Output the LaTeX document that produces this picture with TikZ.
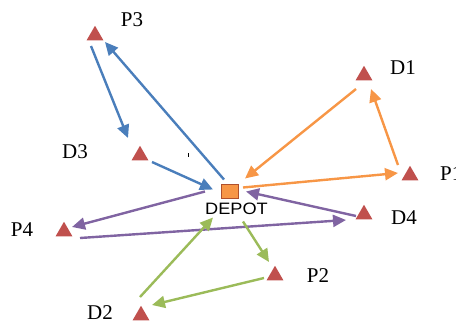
\documentclass[tikz,border=0pt]{standalone}
\usepackage{fontspec}
\setmainfont{Liberation Serif}
\newfontfamily\depotfont{Liberation Sans}
\usetikzlibrary{arrows.meta,shapes.geometric}
\definecolor{sitered}{HTML}{C0504D}
\definecolor{routeblue}{HTML}{4A7EBB}
\definecolor{routeorange}{HTML}{F79646}
\definecolor{routepurple}{HTML}{8064A2}
\definecolor{routegreen}{HTML}{9BBB59}
\definecolor{depotedge}{HTML}{B0502C}
\begin{document}
\begin{tikzpicture}[x=1pt,y=-1pt,
  site/.style={regular polygon, regular polygon sides=3, fill=sitered,
    draw=none, minimum size=19.5pt, inner sep=0pt},
  lbl/.style={font=\fontsize{21}{21}\selectfont, inner sep=0pt},
  route/.style={line width=2.4pt, -{Triangle[length=13pt,width=12pt]}},
  blueroute/.style={route, draw=routeblue},
  orangeroute/.style={route, draw=routeorange},
  purpleroute/.style={route, draw=routepurple},
  greenroute/.style={route, draw=routegreen}]
\useasboundingbox (0,0) rectangle (456,325);

% customer sites (pickup P, delivery D)
\node[site] (P3) at (95,35.5) {};
\node[site] (D3) at (140,155.5) {};
\node[site] (D1) at (364,75.5) {};
\node[site] (P1) at (410,175.5) {};
\node[site] (D4) at (364,214.5) {};
\node[site] (P2) at (275,275.5) {};
\node[site] (P4) at (64,231.5) {};
\node[site] (D2) at (141,315.5) {};

% depot
\node[draw=depotedge, line width=1.2pt, fill=routeorange,
  minimum width=17pt, minimum height=14pt, inner sep=0pt] (depot) at (230,191.5) {};
\node[inner sep=0pt, font=\depotfont\fontsize{16.5}{16.5}\selectfont]
  (depotlbl) at (236.5,209) {\scalebox{1.1}[1]{DEPOT}};

% labels
\node[lbl] (lP3) at (132,20) {P3};
\node[lbl] (lD3) at (75,152) {D3};
\node[lbl] (lD1) at (403,68) {D1};
\node[lbl, anchor=west] (lP1) at (440,174) {P1};
\node[lbl] (lD4) at (404,218) {D4};
\node[lbl] (lP2) at (318,276) {P2};
\node[lbl] (lP4) at (22,230) {P4};
\node[lbl] (lD2) at (100,313) {D2};

% route 3 (blue)
\draw[blueroute] ([shift={(-4,10.5)}]P3.center) -- ([shift={(-12,-17.5)}]D3.center);
\draw[blueroute] ([shift={(-6,-12)}]depot.center) -- ([shift={(10,6.5)}]P3.center);
\draw[blueroute] ([shift={(12,6.5)}]D3.center) -- ([shift={(-17,-2)}]depot.center);

% route 1 (orange)
\draw[orangeroute] ([shift={(-8,13.5)}]D1.center) -- ([shift={(15,-13)}]depot.center);
\draw[orangeroute] ([shift={(13,-4)}]depot.center) -- ([shift={(-12,-2.5)}]P1.center);
\draw[orangeroute] ([shift={(-12,-10.5)}]P1.center) -- ([shift={(7,13.5)}]D1.center);

% route 4 (purple)
\draw[purpleroute] ([shift={(-8,1.5)}]D4.center) -- ([shift={(16,0)}]depot.center);
\draw[purpleroute] ([shift={(-25,0)}]depot.center) -- ([shift={(8,-4.5)}]P4.center);
\draw[purpleroute] ([shift={(16,6.5)}]P4.center) -- ([shift={(-18,5.5)}]D4.center);

% route 2 (green)
\draw[greenroute] ([shift={(13,30)}]depot.center) -- ([shift={(-6,-13.5)}]P2.center);
\draw[greenroute] ([shift={(-11,2.5)}]P2.center) -- ([shift={(11,-10.5)}]D2.center);
\draw[greenroute] ([shift={(-1,-18.5)}]D2.center) -- ([shift={(-17,26)}]depot.center);

% small stray tick
\fill (187.6,153) rectangle (188.6,157);
\end{tikzpicture}
\end{document}
